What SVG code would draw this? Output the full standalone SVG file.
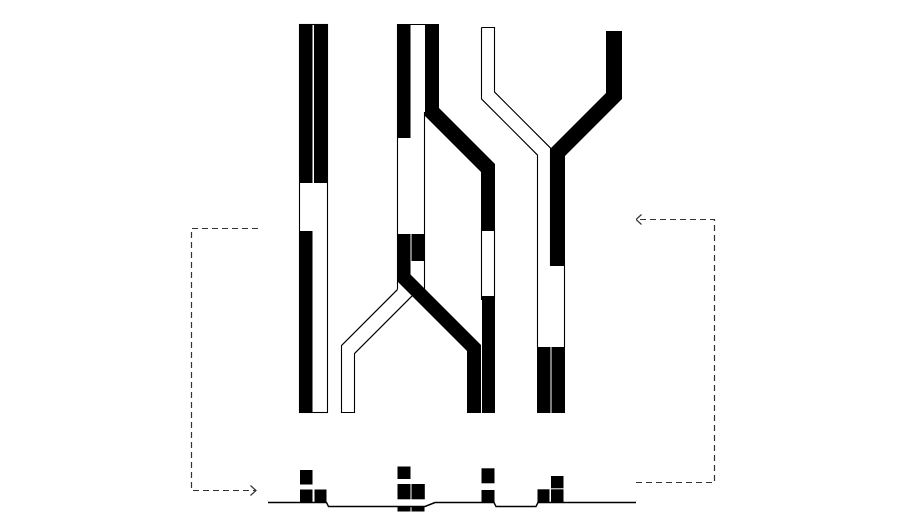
<svg xmlns="http://www.w3.org/2000/svg" width="900" height="528" viewBox="0 0 900 528">
<style>
.k{fill:#000;stroke:none}
.o{fill:none;stroke:#000;stroke-width:1.1}
.d{fill:none;stroke:#333;stroke-width:1.2;stroke-dasharray:6 4}
.b{fill:none;stroke:#000;stroke-width:1.5}
</style>
<defs>
<marker id="ah" viewBox="0 0 10 12" refX="9.5" refY="6" markerWidth="10" markerHeight="12" markerUnits="userSpaceOnUse" orient="auto">
<path d="M4,1 L9.5,6 L4,11" fill="none" stroke="#333" stroke-width="1.2"/>
</marker>
</defs>
<rect width="900" height="528" fill="#fff"/>

<g id="strand1">
<rect class="o" x="299.5" y="24.5" width="28" height="388"/>
<rect class="k" x="299" y="24" width="13.5" height="159"/>
<rect class="k" x="314" y="24" width="14" height="159"/>
<rect class="k" x="299" y="231" width="13.5" height="182"/>
</g>

<g id="strand2">
<path class="o" d="M397.5,289.5 V24.5 H438 M424.5,112 V290"/>
<path class="o" d="M397.5,289.5 L341.5,345.5 V412.5 H354.5 V353.5 L418,290"/>
<path class="o" d="M481.5,228 V300 M494.5,228 V300"/>
<rect class="k" x="397" y="24" width="13.5" height="114"/>
<polygon class="k" points="425,24 439,24 439,108 495,164 495,231 481,231 481,172 425,116"/>
<polygon class="k" points="397,234 410.5,234 410.5,274.5 481,345 481,413 467,413 467,351 397,281"/>
<rect class="k" x="411.5" y="234" width="13.5" height="27"/>
<rect class="k" x="482" y="296" width="13" height="117"/>
</g>

<g id="strand3">
<path class="o" d="M481.5,27.5 H494.5 V92 L550.5,148 V266 M537.5,347 V155 L481.5,99 V27.5 M564.5,262 V347"/>
<polygon class="k" points="606,31 622,31 622,99 565,156 565,266 551,266 551,148 606,93"/>
<rect class="k" x="537" y="347" width="13.5" height="66"/>
<rect class="k" x="551.5" y="347" width="13.5" height="66"/>
</g>

<g id="profile">
<path class="b" d="M268,502.5 H326.5 L328.5,506.5 H425 L435,502.5 H494 L496,506.5 H536 L538,502.5 H636"/>
<rect class="k" x="300" y="470" width="12.5" height="14.5"/>
<rect class="k" x="300" y="489.5" width="12.5" height="13"/>
<rect class="k" x="314.5" y="489.5" width="12" height="13"/>
<rect class="k" x="397.5" y="466.5" width="13" height="12.5"/>
<rect class="k" x="397.5" y="484" width="13" height="15.3"/>
<rect class="k" x="411.5" y="484" width="13.3" height="15.3"/>
<rect class="k" x="397.5" y="506" width="13" height="5.5"/>
<rect class="k" x="411.5" y="506" width="13" height="5.5"/>
<rect class="k" x="481.5" y="468.3" width="13" height="15"/>
<rect class="k" x="481.5" y="490" width="13" height="12.7"/>
<rect class="k" x="537.5" y="489.3" width="12" height="13.4"/>
<rect class="k" x="551" y="476" width="12.5" height="12.3"/>
<rect class="k" x="551" y="489.3" width="12.5" height="13.4"/>
</g>

<g id="connectors">
<path class="d" d="M258,228.5 H191.5 V490.5 H256" marker-end="url(#ah)"/>
<path class="d" d="M636,482.5 H714.5 V219.5 H636" marker-end="url(#ah)"/>
</g>
</svg>
